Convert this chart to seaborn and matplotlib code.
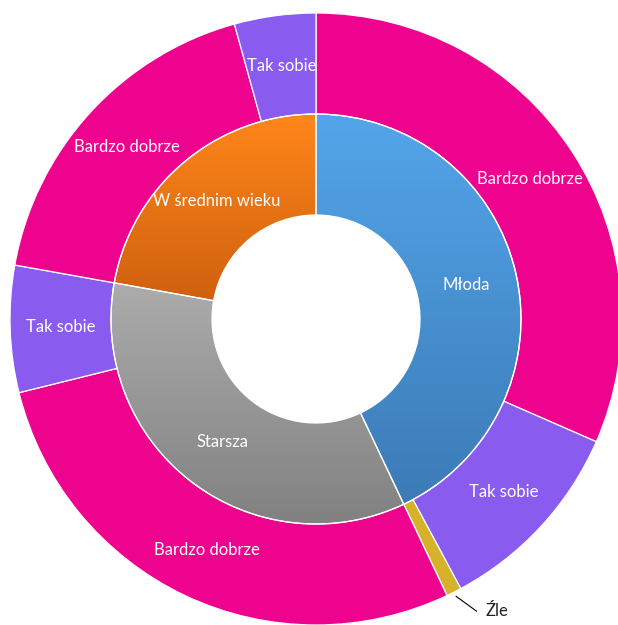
import numpy as np
import seaborn as sns
import matplotlib.pyplot as plt
from matplotlib.colors import LinearSegmentedColormap

groups = ['Młoda', 'Starsza', 'W średnim wieku']
sub_labels = ['Bardzo dobrze', 'Tak sobie', 'Źle',
              'Bardzo dobrze', 'Tak sobie',
              'Bardzo dobrze', 'Tak sobie']
sub_values = [31.6, 10.6, 0.8, 28.2, 6.7, 17.9, 4.3]
sub_group = [0, 0, 0, 1, 1, 2, 2]
group_values = [sum(v for v, g in zip(sub_values, sub_group) if g == i) for i in range(3)]

grad_colors = [('#53a5ea', '#3c7bb6'), ('#acacac', '#818181'), ('#ff861a', '#cf600f')]
sub_colors = {'Bardzo dobrze': '#ee038f', 'Tak sobie': '#8a5bef', 'Źle': '#d6b22a'}

sns.set_theme(style='white')
plt.rcParams['font.family'] = ['Lato', 'DejaVu Sans']

fig = plt.figure(figsize=(6.18, 6.25), dpi=100)
ax = fig.add_axes([0, 0, 1, 1])
R = 306.0
ax.axis('off')

r_in = 205 / R
r_hole = 104 / R

outer, _ = ax.pie(sub_values, radius=1.0, startangle=90, counterclock=False,
                  colors=[sub_colors[l] for l in sub_labels],
                  wedgeprops=dict(width=1.0 - r_in, edgecolor='white', linewidth=0.9))
inner, _ = ax.pie(group_values, radius=r_in, startangle=90, counterclock=False,
                  colors=['none'] * 3,
                  wedgeprops=dict(width=r_in - r_hole, edgecolor='white', linewidth=0.9))

# vertical gradient inside each inner wedge
for w, (c_top, c_bot) in zip(inner, grad_colors):
    ext = w.get_path().get_extents()
    cmap = LinearSegmentedColormap.from_list('g', [c_bot, c_top])
    grad = np.linspace(0, 1, 256).reshape(-1, 1)
    im = ax.imshow(grad, cmap=cmap, origin='lower', aspect='auto',
                   extent=[ext.x0, ext.x1, ext.y0, ext.y1], zorder=w.get_zorder() - 0.1)
    im.set_clip_path(w)
ax.set_xlim(-316 / R, (618 - 316) / R)
ax.set_ylim(-(625 - 319) / R, 319 / R)

def mid(w):
    return np.deg2rad((w.theta1 + w.theta2) / 2)

for w, lab in zip(inner, groups):
    a = mid(w)
    r = (r_in + r_hole) / 2
    ax.text(r * np.cos(a), r * np.sin(a), lab, color='white', fontsize=12,
            ha='center', va='center')

for w, lab in zip(outer, sub_labels):
    a = mid(w)
    if lab == 'Źle':
        x0, y0 = 1.015 * np.cos(a), 1.015 * np.sin(a)
        x1, y1 = 1.09 * np.cos(a + 0.035), 1.09 * np.sin(a + 0.035)
        ax.plot([x0, x1], [y0, y1], color='black', lw=0.8)
        ax.text(x1 + 0.03, y1, lab, color='#222222', fontsize=12, ha='left', va='center')
        continue
    r = (1.0 + r_in) / 2
    ax.text(r * np.cos(a), r * np.sin(a), lab, color='white', fontsize=12,
            ha='center', va='center')

plt.savefig('out.png', dpi=100)
plt.close()
